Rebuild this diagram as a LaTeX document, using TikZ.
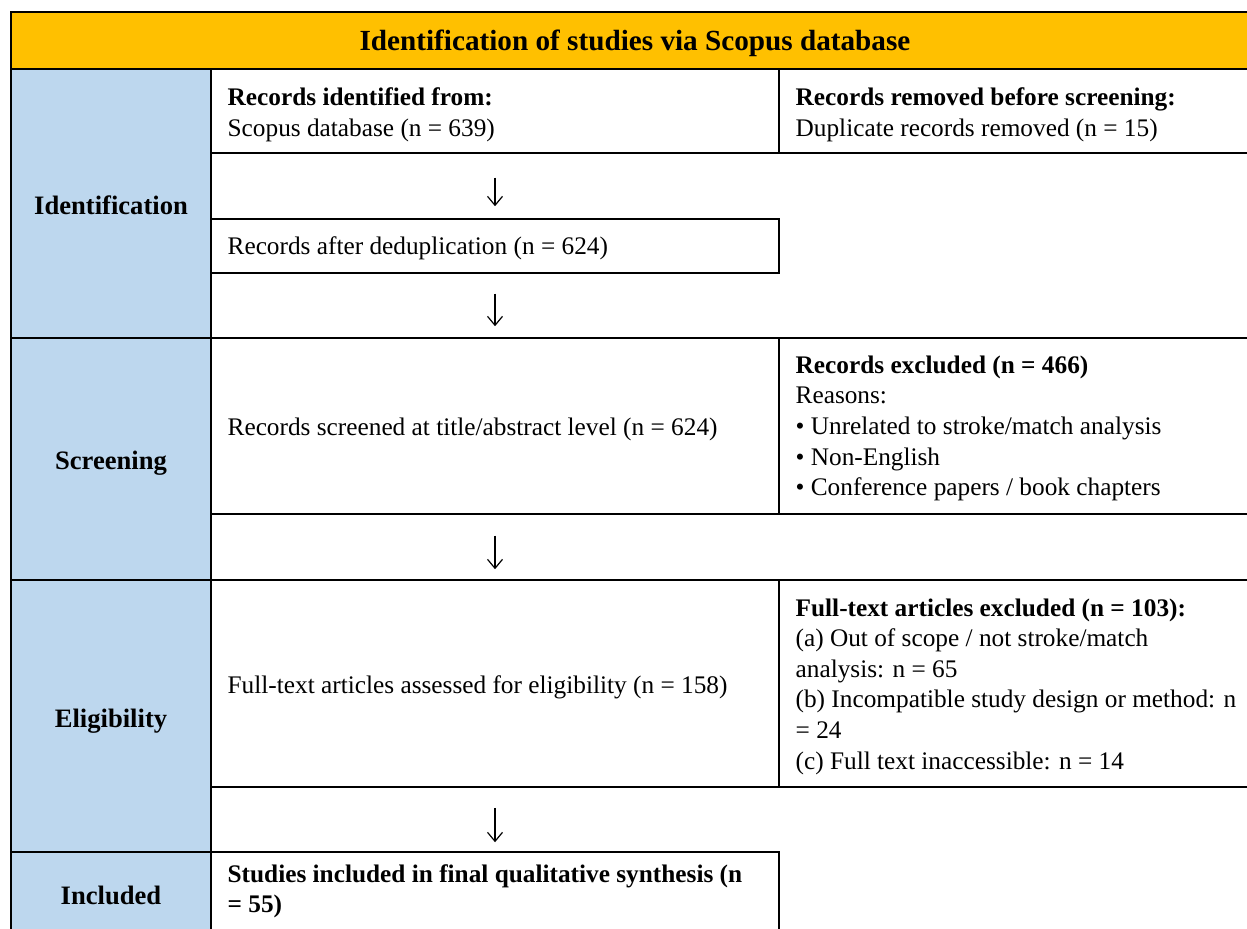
\documentclass[tikz,border=0pt]{standalone}
\usepackage{fontspec}
\setmainfont{Liberation Serif}
\usetikzlibrary{arrows.meta,positioning,fit}
\definecolor{PRISMA-GOLD}{RGB}{255, 192, 0}
\definecolor{PRISMA-BLUE}{RGB}{189, 215, 238}

\tikzset{
  cellbox/.style={draw=black, line width=0.75pt, inner sep=0pt},
  phasebox/.style={cellbox, fill=PRISMA-BLUE},
  phaselabel/.style={font=\fontsize{13.3}{16}\selectfont\bfseries, inner sep=0pt, anchor=base},
  titletext/.style={font=\fontsize{14.6}{17}\selectfont\bfseries, inner sep=0pt},
  bodytext/.style={font=\fontsize{12.65}{15.3}\selectfont, align=left, inner sep=0pt, anchor=west},
  flowarrow/.style={-{Straight Barb[length=4.5pt,width=7.5pt]}, line width=0.6pt},
}

\begin{document}
\begin{tikzpicture}[x=0.5pt,y=-0.5pt]
  \useasboundingbox (0,0) rectangle (1247,929);
  \clip (0,0) rectangle (1247,929);

  % Title bar
  \node[cellbox, fill=PRISMA-GOLD, fit={(11,12) (1259,69)}] (header) {};
  \node[titletext] (headertext) at ([yshift=-1.5pt]header.center) {Identification of studies via Scopus database};

  % Phase column
  \node[phasebox, fit={(11,69) (211,338)}] (idphase) {};
  \node[phasebox, fit={(11,338) (211,580)}] (scphase) {};
  \node[phasebox, fit={(11,580) (211,852)}] (elphase) {};
  \node[phasebox, fit={(11,852) (211,934)}] (inphase) {};
  \node[phaselabel] (idlabel) at ([yshift=-5.5pt]idphase.center) {Identification};
  \node[phaselabel] (sclabel) at ([yshift=-5.5pt]scphase.center) {Screening};
  \node[phaselabel] (ellabel) at ([yshift=-5.5pt]elphase.center) {Eligibility};
  \node[phaselabel] (inlabel) at ([yshift=-5.5pt]inphase.center) {Included};

  % Flow boxes
  \node[cellbox, fit={(211,69) (779,153)}] (identified) {};
  \node[cellbox, fit={(779,69) (1259,153)}] (removed) {};
  \node[cellbox, fit={(211,219) (779,273)}] (dedup) {};
  \node[cellbox, fit={(211,338) (779,514)}] (screened) {};
  \node[cellbox, fit={(779,338) (1259,514)}] (excluded) {};
  \node[cellbox, fit={(211,580) (779,787)}] (assessed) {};
  \node[cellbox, fit={(779,580) (1259,787)}] (ftexcluded) {};
  \node[cellbox, fit={(211,852) (779,934)}] (included) {};

  % Box texts
  \node[bodytext] (identifiedtext) at ([xshift=8.5pt,yshift=-1.8pt]identified.west)
    {\textbf{Records identified from:}\\Scopus database (n = 639)};
  \node[bodytext] (removedtext) at ([xshift=8.5pt,yshift=-1.8pt]removed.west)
    {\textbf{Records removed before screening:}\\Duplicate records removed (n = 15)};
  \node[bodytext] (deduptext) at ([xshift=8.5pt,yshift=-1pt]dedup.west)
    {Records after deduplication (n = 624)};
  \node[bodytext] (screenedtext) at ([xshift=8.5pt,yshift=-1.5pt]screened.west)
    {Records screened at title/abstract level (n = 624)};
  \node[bodytext] (excludedtext) at ([xshift=8.5pt,yshift=-1.2pt]excluded.west)
    {\textbf{Records excluded (n = 466)}\\Reasons:\\• Unrelated to stroke/match analysis\\• Non-English\\• Conference papers / book chapters};
  \node[bodytext] (assessedtext) at ([xshift=8.5pt,yshift=-1.8pt]assessed.west)
    {Full-text articles assessed for eligibility (n = 158)};
  \node[bodytext] (ftexcludedtext) at ([xshift=8.5pt,yshift=-1.5pt]ftexcluded.west)
    {\textbf{Full-text articles excluded (n = 103):}\\(a) Out of scope / not stroke/match\\analysis: n = 65\\(b) Incompatible study design or method: n\\= 24\\(c) Full text inaccessible: n = 14};
  \node[bodytext] (includedtext) at ([xshift=8.5pt,yshift=0.8pt]included.west)
    {\textbf{Studies included in final qualitative synthesis (n}\\\textbf{= 55)}};

  % Arrows
  \draw[flowarrow, shorten <=12pt, shorten >=6pt] (identified) -- (dedup);
  \draw[flowarrow, shorten <=10pt, shorten >=5.5pt] (dedup) -- (screened);
  \draw[flowarrow, shorten <=10.5pt, shorten >=5pt] (screened) -- (assessed);
  \draw[flowarrow, shorten <=10pt, shorten >=4.5pt] (assessed) -- (included);
\end{tikzpicture}
\end{document}
